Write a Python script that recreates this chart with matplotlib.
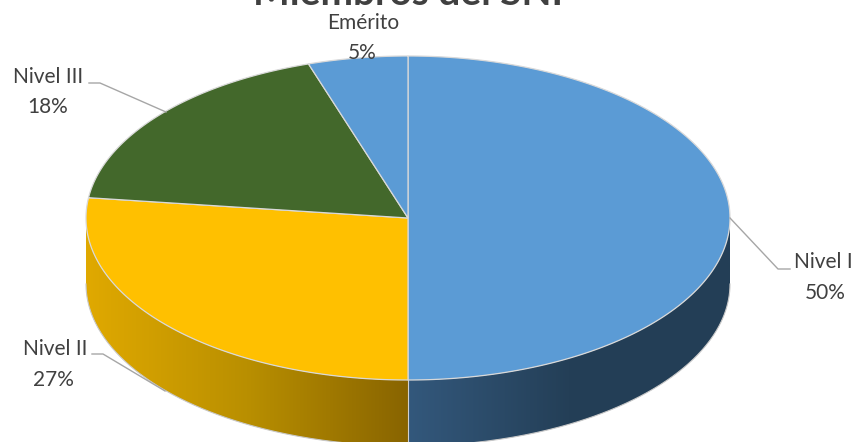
import numpy as np
import matplotlib
matplotlib.use('Agg')
import matplotlib.pyplot as plt
from matplotlib.patches import Polygon
from matplotlib.colors import LinearSegmentedColormap

categories = ['Nivel I', 'Nivel II', 'Nivel III', 'Emérito']
values = [50, 27, 18, 5]
top_colors = ['#5b9bd5', '#ffc000', '#43682b', '#5b9bd5']
title = 'Miembros del SNI'

plt.rcParams['font.family'] = ['Lato', 'DejaVu Sans']

W, H = 860, 442
cx, cy, rx, ry = 408, 218, 322, 162
depth = 66


def rim(a0, a1, drop=0, n=200):
    # angles in percent of the circle, clockwise from the top
    t = np.linspace(a0, a1, n) / 100 * 2 * np.pi
    return cx + rx * np.sin(t), cy - ry * np.cos(t) + drop


fig = plt.figure(figsize=(W / 100, H / 100), dpi=100)
ax = fig.add_axes([0, 0, 1, 1])
ax.set_xlim(0, W)
ax.set_ylim(H, 0)
ax.axis('off')

edges = np.cumsum([0] + values)

# side walls, only the front half of the cylinder shows
side_maps = [('#33587c', '#243f57', '#233e56'), ('#e0a900', '#b98f00', '#886400')]
for i in range(2):
    a0, a1 = max(edges[i], 25), min(edges[i + 1], 75)
    x, y = rim(a0, a1)
    xb, yb = rim(a0, a1, depth)
    poly = Polygon(np.column_stack([np.r_[x, xb[::-1]], np.r_[y, yb[::-1]]]),
                   closed=True, fc='none', ec='none')
    ax.add_patch(poly)
    cmap = LinearSegmentedColormap.from_list('side', side_maps[i])
    grad = np.linspace(0, 1, 256).reshape(1, -1)
    im = ax.imshow(grad, cmap=cmap, extent=[x.min(), x.max(), H, 0], aspect='auto', zorder=2)
    im.set_clip_path(poly)
    ax.plot(xb, yb, color='#c8c8c8', lw=0.8, zorder=2.5)
ax.set_xlim(0, W)
ax.set_ylim(H, 0)
ax.plot([cx, cx], [cy + ry, cy + ry + depth], color='#d0d0d0', lw=0.8, zorder=3)

# top face
for i, col in enumerate(top_colors):
    x, y = rim(edges[i], edges[i + 1])
    pts = np.column_stack([np.r_[cx, x], np.r_[cy, y]])
    ax.add_patch(Polygon(pts, closed=True, fc=col, ec='#d9d9d9', lw=0.9, zorder=4))

# title sits mostly above the canvas
ax.text(408, 5, title, fontsize=28, fontweight='bold', color='#404040',
        ha='center', va='baseline', zorder=6)

# labels with leader lines
name_pos = [(823, 262), (55, 349), (48, 77), (363, 23)]
pct_pos = [(825, 293), (53, 380), (48, 107), (362, 53)]
leaders = [[(730, 218), (778, 269), (790, 269)],
           [(165, 391), (103, 354), (92, 354)],
           [(166, 112), (100, 83), (89, 83)],
           None]
for name, v, p0, p1, lead in zip(categories, values, name_pos, pct_pos, leaders):
    ax.text(p0[0], p0[1], name, fontsize=15, color='#404040', ha='center',
            va='center', zorder=6)
    ax.text(p1[0], p1[1], f'{v}%', fontsize=15, color='#404040', ha='center',
            va='center', zorder=6)
    if lead is not None:
        ax.plot(*zip(*lead), color='#a6a6a6', lw=1.0, zorder=5)

fig.savefig('out.png', dpi=100)
